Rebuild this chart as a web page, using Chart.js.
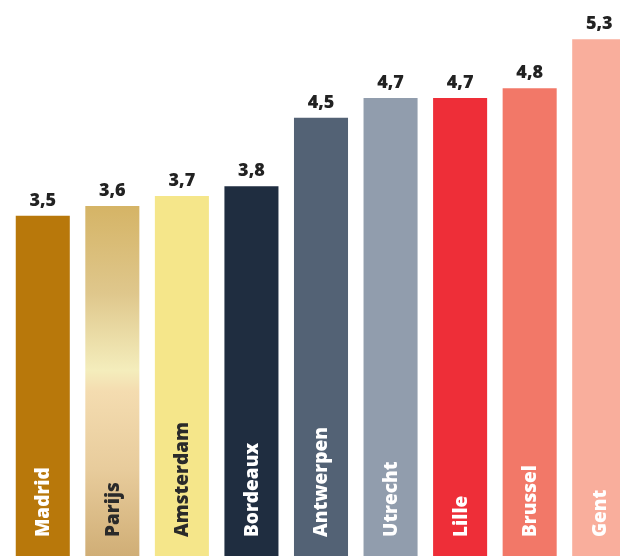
<!DOCTYPE html>
<html>
<head>
<meta charset="utf-8">
<style>
  html, body { margin: 0; padding: 0; background: #fff; overflow: hidden; }
  #chart { display: block; }
</style>
<script src="https://cdn.jsdelivr.net/npm/chart.js@4.4.1/dist/chart.umd.min.js"></script>
</head>
<body>
<canvas id="chart" width="640" height="556"></canvas>
<script>
const cities = ['Madrid', 'Parijs', 'Amsterdam', 'Bordeaux', 'Antwerpen', 'Utrecht', 'Lille', 'Brussel', 'Gent'];
const scores = [3.5, 3.6, 3.7, 3.8, 4.5, 4.7, 4.7, 4.8, 5.3];
const barColors = ['#b8780b', 'paris', '#f5e68a', '#1f2d40', '#536275', '#919dad', '#ee2e38', '#f27868', '#f9ae9c'];
const labelColors = ['#fff', '#2a2a2a', '#2a2a2a', '#fff', '#fff', '#fff', '#fff', '#fff', '#fff'];

function parisGradient(ctx) {
  const chart = ctx.chart;
  const area = chart.chartArea;
  const yScale = chart.scales.y;
  if (!area || !yScale) return '#e0c890';
  const top = yScale.getPixelForValue(scores[ctx.dataIndex]);
  if (!isFinite(top) || !isFinite(area.bottom)) return '#e0c890';
  const g = chart.ctx.createLinearGradient(0, top, 0, area.bottom);
  g.addColorStop(0, '#d5b466');
  g.addColorStop(0.25, '#dfc78c');
  g.addColorStop(0.47, '#f4edbc');
  g.addColorStop(0.53, '#f4dcb0');
  g.addColorStop(0.75, '#e8cc9c');
  g.addColorStop(1, '#d0ae76');
  return g;
}

const labelsPlugin = {
  id: 'barLabels',
  afterDatasetsDraw(chart) {
    const ctx = chart.ctx;
    const meta = chart.getDatasetMeta(0);
    const area = chart.chartArea;
    meta.data.forEach((bar, i) => {
      // value above bar
      ctx.save();
      ctx.font = '800 18px "Open Sans"';
      ctx.fillStyle = '#222';
      ctx.textAlign = 'center';
      ctx.textBaseline = 'alphabetic';
      ctx.fillText(scores[i].toFixed(1).replace('.', ','), bar.x, bar.y - 10);
      ctx.restore();

      // city name inside bar, rotated
      ctx.save();
      ctx.translate(bar.x, area.bottom - 19);
      ctx.rotate(-Math.PI / 2);
      ctx.font = '800 19px "Open Sans"';
      ctx.fillStyle = labelColors[i];
      ctx.textAlign = 'left';
      ctx.textBaseline = 'middle';
      ctx.fillText(cities[i], 0, 1);
      ctx.restore();
    });
  }
};

new Chart(document.getElementById('chart'), {
  type: 'bar',
  data: {
    labels: cities,
    datasets: [{
      data: scores,
      backgroundColor: (ctx) => barColors[ctx.dataIndex] === 'paris' ? parisGradient(ctx) : barColors[ctx.dataIndex],
      borderWidth: 0,
      barPercentage: 0.777,
      categoryPercentage: 1
    }]
  },
  options: {
    responsive: false,
    animation: false,
    devicePixelRatio: 1,
    layout: { padding: { left: 8, right: 6, top: 0, bottom: 0 } },
    plugins: {
      legend: { display: false },
      tooltip: { enabled: false }
    },
    scales: {
      x: { display: false },
      y: { display: false, min: 0.03, max: 5.7 }
    }
  },
  plugins: [labelsPlugin]
});
</script>
</body>
</html>
